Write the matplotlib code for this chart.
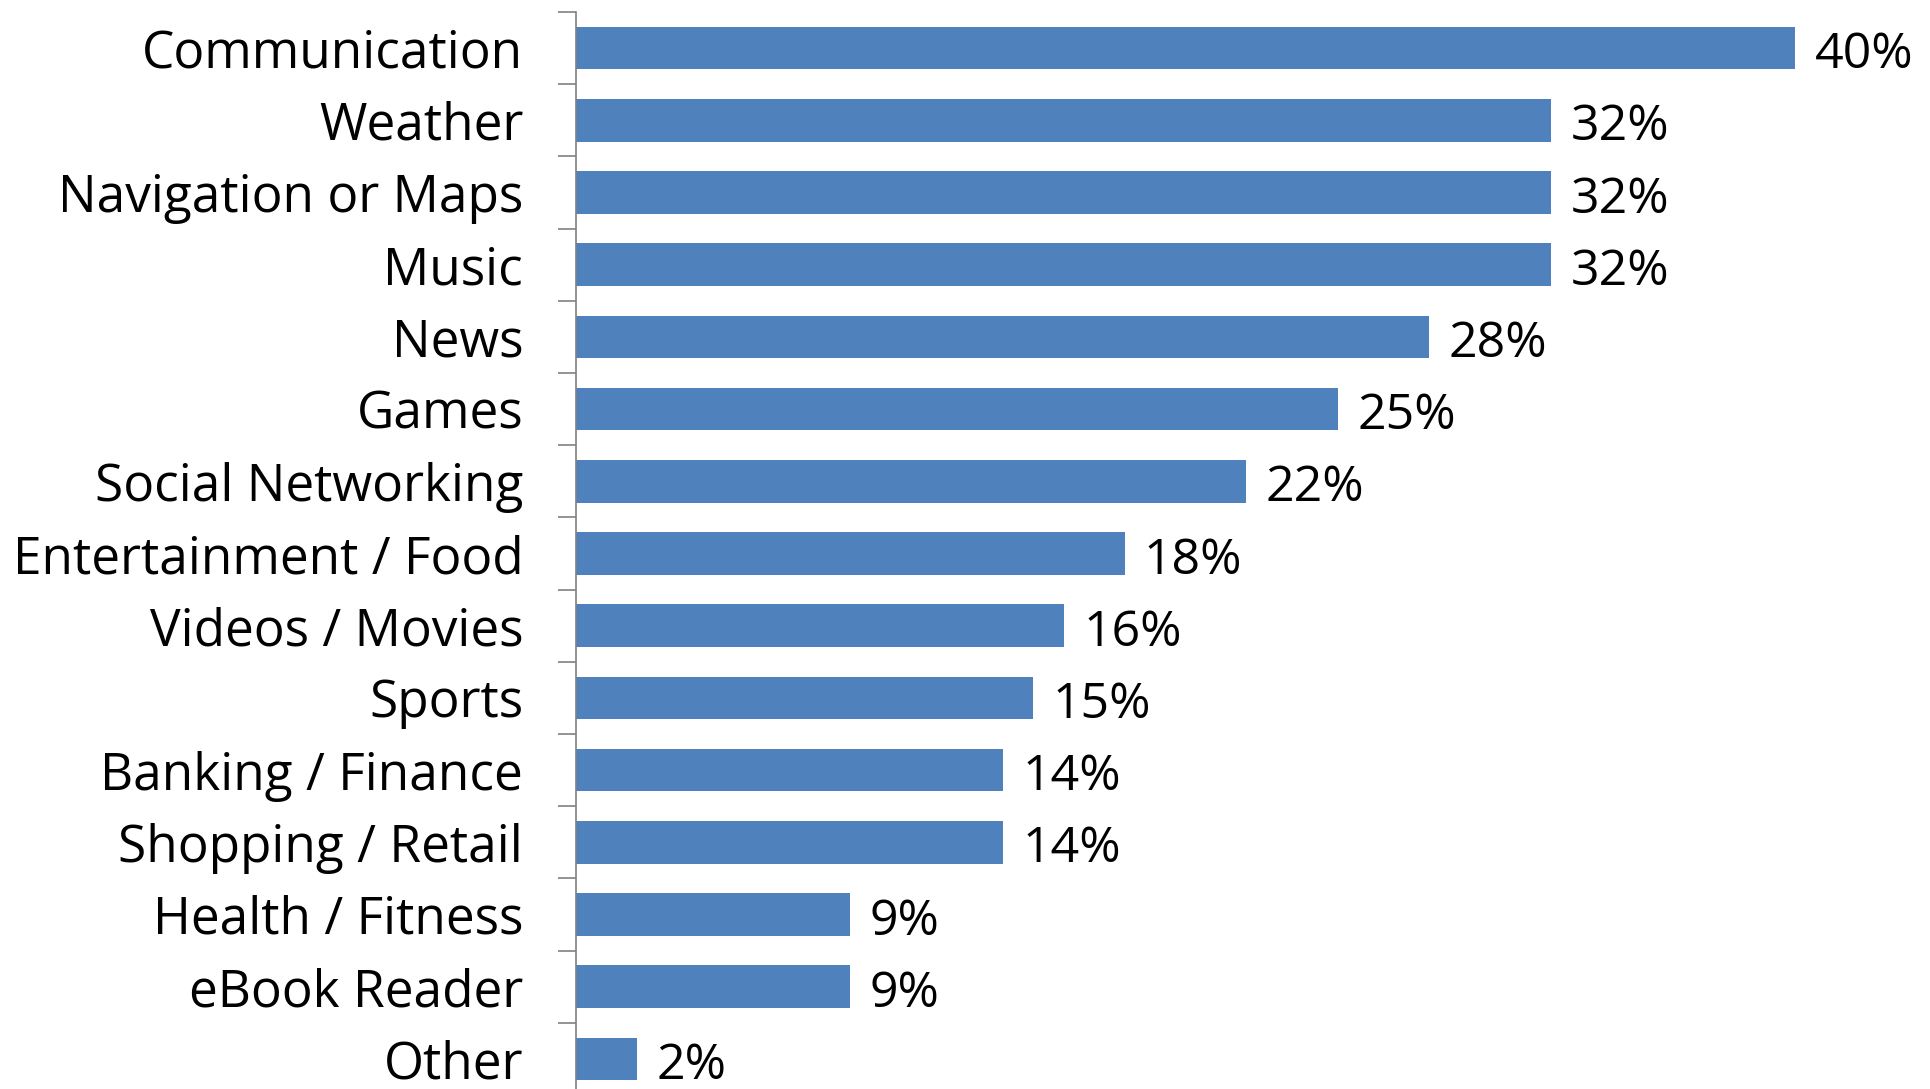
import matplotlib
matplotlib.use('Agg')
import matplotlib.pyplot as plt
import numpy as np

categories = ['Communication', 'Weather', 'Navigation or Maps', 'Music', 'News',
              'Games', 'Social Networking', 'Entertainment / Food', 'Videos / Movies',
              'Sports', 'Banking / Finance', 'Shopping / Retail', 'Health / Fitness',
              'eBook Reader', 'Other']
values = [40, 32, 32, 32, 28, 25, 22, 18, 16, 15, 14, 14, 9, 9, 2]
value_labels = [f'{v}%' for v in values]

plt.rcParams['font.family'] = ['Open Sans', 'DejaVu Sans']

fig = plt.figure(figsize=(19.31, 10.89), dpi=100)
ax = fig.add_axes([576 / 1931, 1 - 1095 / 1089, 44 * 30.475 / 1931, 1083 / 1089])

y = np.arange(len(categories))
ax.barh(y, values, height=0.59, color='#4F81BD')
for yi, v, lab in zip(y, values, value_labels):
    ax.annotate(lab, (v, yi), xytext=(14, -1), textcoords='offset points',
                ha='left', va='center_baseline', fontsize=36, color='black')

ax.set_ylim(len(categories) - 0.5, -0.5)
ax.set_xlim(0, 44)
ax.set_yticks(y)
ax.set_yticklabels(categories, fontsize=37)
ax.set_yticks(np.arange(len(categories)) - 0.5, minor=True)
ax.tick_params(axis='y', which='major', length=0, pad=38)
ax.tick_params(axis='y', which='minor', length=13, width=1.2, color='#808080', direction='out')
ax.set_xticks([])
for s in ['top', 'right', 'bottom']:
    ax.spines[s].set_visible(False)
ax.spines['left'].set_color('#808080')
ax.spines['left'].set_linewidth(1.2)

fig.savefig('out.png', dpi=100)
